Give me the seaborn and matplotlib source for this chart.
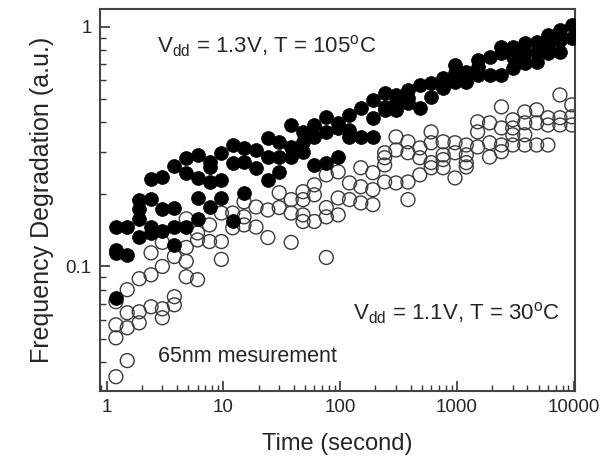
import numpy as np
import pandas as pd
import matplotlib
matplotlib.use('Agg')
import matplotlib.pyplot as plt
from matplotlib.ticker import NullFormatter, LogLocator
import seaborn as sns

# measurement times (s), about ten per decade
times = [1.2, 1.5, 1.9, 2.4, 3.0, 3.8, 4.8, 6.0, 7.6, 9.6,
         12, 15, 19, 24, 30, 38, 48, 60, 76, 96,
         120, 150, 190, 240, 300, 380, 480, 600, 760, 960,
         1200, 1500, 1900, 2400, 3000, 3800, 4800, 6000, 7600, 9600]

# Vdd = 1.3V, T = 105C (filled dots), one list per time
hot_deg = [
    [0.146, 0.117, 0.114, 0.074], [0.146, 0.112],
    [0.190, 0.174, 0.157, 0.133], [0.232, 0.191, 0.146, 0.138],
    [0.237, 0.174, 0.140], [0.263, 0.176, 0.146, 0.123],
    [0.284, 0.246, 0.146], [0.292, 0.234, 0.193, 0.157],
    [0.273, 0.260, 0.225, 0.177], [0.298, 0.230, 0.193],
    [0.321, 0.271, 0.154], [0.312, 0.273, 0.203],
    [0.306, 0.258], [0.344, 0.286, 0.230],
    [0.331, 0.286, 0.248], [0.389, 0.315, 0.286],
    [0.364, 0.331, 0.301], [0.389, 0.347, 0.265],
    [0.421, 0.364, 0.271], [0.397, 0.378, 0.286],
    [0.429, 0.371, 0.347], [0.458, 0.347],
    [0.495, 0.417, 0.347], [0.530, 0.463, 0.450],
    [0.519, 0.485, 0.450], [0.545, 0.505, 0.481],
    [0.572, 0.458], [0.582, 0.509],
    [0.611, 0.556], [0.692, 0.641, 0.589],
    [0.648, 0.589], [0.727, 0.679, 0.629],
    [0.748, 0.629], [0.823, 0.777, 0.629],
    [0.823, 0.748, 0.673], [0.855, 0.777, 0.706],
    [0.864, 0.784, 0.713], [0.924, 0.839, 0.777],
    [0.969, 0.880, 0.784], [1.016, 0.897]]

# Vdd = 1.1V, T = 30C (open circles)
cold_deg = [
    [0.0713, 0.0571, 0.0504, 0.0347], [0.080, 0.0641, 0.0555, 0.0405],
    [0.0889, 0.0647, 0.0582], [0.114, 0.0923, 0.0679],
    [0.126, 0.100, 0.0666, 0.0611], [0.110, 0.0748, 0.0692],
    [0.158, 0.120, 0.105, 0.0906], [0.138, 0.129, 0.0881],
    [0.149, 0.127], [0.167, 0.127, 0.107],
    [0.167, 0.145], [0.186, 0.161, 0.149],
    [0.177, 0.146], [0.172, 0.132],
    [0.203, 0.176], [0.190, 0.167, 0.126],
    [0.205, 0.190, 0.164, 0.154], [0.219, 0.199, 0.154],
    [0.241, 0.176, 0.161, 0.109], [0.248, 0.193, 0.164],
    [0.223, 0.190], [0.258, 0.215, 0.184],
    [0.246, 0.209, 0.181], [0.298, 0.284, 0.265, 0.225],
    [0.347, 0.306, 0.223], [0.331, 0.298, 0.225, 0.190],
    [0.312, 0.284, 0.241], [0.364, 0.328, 0.271, 0.258],
    [0.331, 0.292, 0.279, 0.258], [0.328, 0.298, 0.234],
    [0.321, 0.292, 0.271, 0.260], [0.401, 0.364, 0.315],
    [0.397, 0.328, 0.286], [0.463, 0.378, 0.321, 0.301],
    [0.409, 0.378, 0.354, 0.321], [0.441, 0.397, 0.354, 0.321],
    [0.450, 0.397, 0.321], [0.417, 0.389, 0.321],
    [0.519, 0.417, 0.389], [0.472, 0.421, 0.389]]

x_ticks = [1, 10, 100, 1000, 10000]
x_labels = ['1', '10', '100', '1000', '10000']
y_ticks = [0.1, 1]
y_labels = ['0.1', '1']


def to_frame(deg_lists):
    rows = []
    for t, vals in zip(times, deg_lists):
        for v in vals:
            rows.append({'time': t, 'deg': v})
    return pd.DataFrame(rows)


def main():
    sns.set_style('ticks')
    plt.rcParams['font.family'] = ['Liberation Sans', 'DejaVu Sans']
    plt.rcParams['mathtext.fontset'] = 'custom'
    plt.rcParams['mathtext.rm'] = 'Liberation Sans'
    plt.rcParams['mathtext.it'] = 'Liberation Sans:italic'

    hot = to_frame(hot_deg)
    cold = to_frame(cold_deg)

    fig = plt.figure(figsize=(6.06, 4.72), dpi=100)
    ax = fig.add_axes([0.165, 0.172, 0.784, 0.809])

    # open circles first, filled dots go on top
    sns.scatterplot(data=cold, x='time', y='deg', ax=ax, s=100,
                    facecolors='none', edgecolor='#3a3a3a', linewidth=1.0,
                    zorder=2)
    sns.scatterplot(data=hot, x='time', y='deg', ax=ax, s=100,
                    color='black', edgecolor='black', linewidth=0.5,
                    zorder=3)

    ax.set_xscale('log')
    ax.set_yscale('log')
    ax.set_xlim(0.877, 10250)
    ax.set_ylim(0.0303, 1.185)

    ax.set_xticks(x_ticks)
    ax.set_xticklabels(x_labels)
    ax.set_yticks(y_ticks)
    ax.set_yticklabels(y_labels)
    ax.xaxis.set_minor_locator(LogLocator(base=10, subs=np.arange(2, 10)))
    ax.yaxis.set_minor_locator(LogLocator(base=10, subs=np.arange(2, 10)))
    ax.xaxis.set_minor_formatter(NullFormatter())
    ax.yaxis.set_minor_formatter(NullFormatter())
    ax.tick_params(which='both', direction='in', top=False, right=False,
                   color='#333333', labelsize=13.5)
    ax.tick_params(which='major', length=7, width=1.2, pad=6)
    ax.tick_params(which='minor', length=4, width=1.0)

    for sp in ax.spines.values():
        sp.set_color('#444444')
        sp.set_linewidth(1.5)

    ax.set_xlabel('Time (second)', fontsize=17, labelpad=12)
    ax.set_ylabel('Frequency Degradation (a.u.)', fontsize=18, labelpad=8)

    ax.text(0.12, 0.885, r'V$_{\mathrm{dd}}$ = 1.3V, T = 105$^{\mathrm{o}}$C',
            transform=ax.transAxes, fontsize=16, va='baseline')
    ax.text(0.533, 0.186, r'V$_{\mathrm{dd}}$ = 1.1V, T = 30$^{\mathrm{o}}$C',
            transform=ax.transAxes, fontsize=16, va='baseline')
    ax.text(0.122, 0.076, '65nm mesurement',
            transform=ax.transAxes, fontsize=15.5, va='baseline')

    fig.savefig('out.png', dpi=100)


if __name__ == '__main__':
    main()
